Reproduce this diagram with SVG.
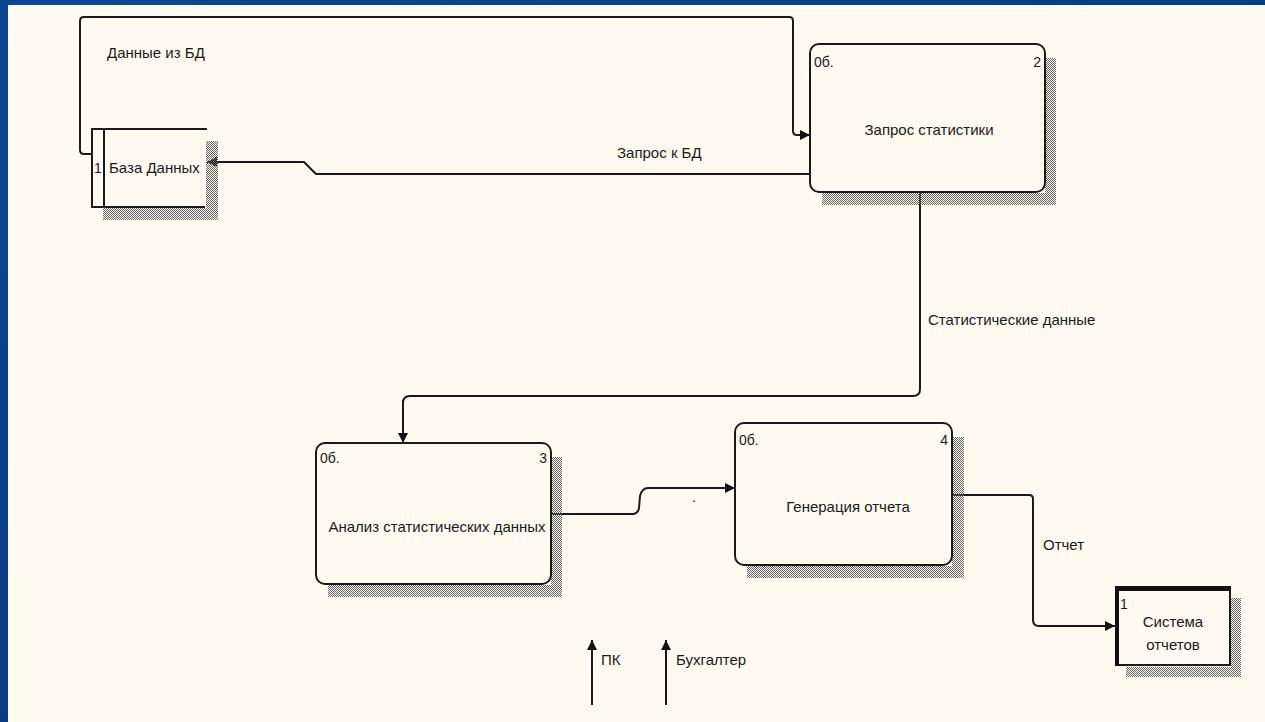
<svg xmlns="http://www.w3.org/2000/svg" width="1265" height="722" viewBox="0 0 1265 722">
<defs>
<pattern id="hatch" width="2" height="2" patternUnits="userSpaceOnUse">
<rect x="0" y="0" width="1" height="1" fill="#666"/>
<rect x="1" y="1" width="1" height="1" fill="#666"/>
</pattern>
<marker id="arr" viewBox="0 0 10 10" refX="10" refY="5" markerWidth="12" markerHeight="10" markerUnits="userSpaceOnUse" orient="auto">
<path d="M0,0 L10,5 L0,10 Z" fill="#111"/>
</marker>
<linearGradient id="bg" x1="0" y1="0" x2="1" y2="1">
<stop offset="0" stop-color="#0e4590"/>
<stop offset="0.5" stop-color="#0b3d84"/>
<stop offset="1" stop-color="#0e4590"/>
</linearGradient>
</defs>
<style>
text{font-family:"Liberation Sans",Arial,sans-serif;fill:#1a1a1a;font-size:15px}
.sm{font-size:14px}
.box{fill:#fffaef;stroke:#1a1a1a;stroke-width:2}
.ln{fill:none;stroke:#1a1a1a;stroke-width:2}
.sh{fill:url(#hatch)}
.con{fill:none;stroke:#1a1a1a;stroke-width:2}
</style>
<rect width="1265" height="722" fill="url(#bg)"/>
<rect x="8" y="5" width="1257" height="717" fill="#fffaef"/>

<g id="connectors">
<path class="con" d="M92 154 L84 154 Q80 154 80 150 L80 21 Q80 17 84 17 L789 17 Q793 17 793 21 L793 131 Q793 135 797 135 L810 135" marker-end="url(#arr)"/>
<path class="con" d="M810 174 L316 174 L304 162 L207 162" marker-end="url(#arr)"/>
<path class="con" d="M920 192 L920 389 Q920 396 913 396 L410 396 Q403 396 403 403 L403 443" marker-end="url(#arr)"/>
<path class="con" d="M551 514 L632 514 Q638 514 639 508 L640 496 Q642 488 648 488 L735 488" marker-end="url(#arr)"/>
<path class="con" d="M952 495 L1029 495 Q1033 495 1033 499 L1033 620 Q1033 626 1039 626 L1115 626" marker-end="url(#arr)"/>
<path class="con" d="M592 705 L592 640" marker-end="url(#arr)"/>
<path class="con" d="M666 705 L666 640" marker-end="url(#arr)"/>
<text x="107" y="58">Данные из БД</text>
<text x="617" y="158">Запрос к БД</text>
<text x="928" y="325">Статистические данные</text>
<text x="692" y="502" class="sm">.</text>
<text x="1043" y="550">Отчет</text>
<text x="601" y="665">ПК</text>
<text x="676" y="665">Бухгалтер</text>
</g>

<g id="store1">
<rect class="sh" x="206" y="141" width="12" height="79"/>
<rect class="sh" x="103" y="208" width="115" height="12"/>
<path class="ln" d="M207 129 L92 129 L92 207 L205 207 M104 129 L104 207"/>
<text x="94" y="173" class="sm">1</text>
<text x="109" y="173">База Данных</text>
</g>

<g id="proc2">
<rect class="sh" x="1045" y="58" width="11" height="147"/>
<rect class="sh" x="822" y="193" width="234" height="12"/>
<rect class="box" x="810" y="44" width="235" height="148" rx="9"/>
<text x="814" y="67" class="sm">0б.</text>
<text x="1041" y="67" class="sm" text-anchor="end">2</text>
<text x="929" y="135" text-anchor="middle">Запрос статистики</text>
</g>

<g id="proc3">
<rect class="sh" x="551" y="457" width="11" height="140"/>
<rect class="sh" x="328" y="585" width="234" height="12"/>
<rect class="box" x="316" y="443" width="235" height="141" rx="9"/>
<text x="320" y="463" class="sm">0б.</text>
<text x="547" y="463" class="sm" text-anchor="end">3</text>
<text x="437" y="532" text-anchor="middle">Анализ статистических данных</text>
</g>

<g id="proc4">
<rect class="sh" x="952" y="437" width="12" height="141"/>
<rect class="sh" x="747" y="566" width="217" height="12"/>
<rect class="box" x="735" y="423" width="217" height="142" rx="9"/>
<text x="739" y="445" class="sm">0б.</text>
<text x="948" y="445" class="sm" text-anchor="end">4</text>
<text x="848" y="512" text-anchor="middle">Генерация отчета</text>
</g>

<g id="ext1">
<rect class="sh" x="1231" y="598" width="10" height="79"/>
<rect class="sh" x="1126" y="667" width="115" height="10"/>
<rect x="1116" y="587" width="114" height="78" fill="#fffaef" stroke="#1a1a1a" stroke-width="2"/>
<rect x="1115" y="586" width="116" height="5" fill="#111"/>
<rect x="1115" y="586" width="4" height="80" fill="#111"/>
<text x="1120" y="609" class="sm">1</text>
<text x="1173" y="627" text-anchor="middle">Система</text>
<text x="1173" y="650" text-anchor="middle">отчетов</text>
</g>
</svg>
